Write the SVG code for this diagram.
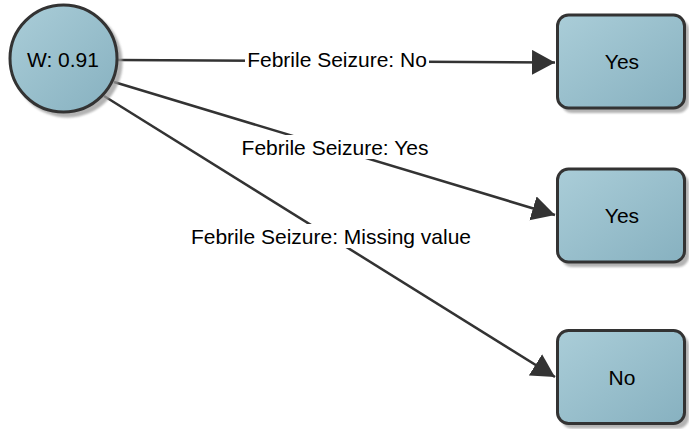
<svg xmlns="http://www.w3.org/2000/svg" width="689" height="429" viewBox="0 0 689 429">
  <style>
    .node { fill: url(#fillGrad); stroke: #333333; stroke-width: 3; }
    .shadow { fill: #9a9a9a; opacity: 0.75; filter: url(#soft); }
    .label { font-family: "Liberation Sans", Arial, sans-serif; font-size: 21px; fill: #000000; text-anchor: middle; }
    .edge { stroke: #333333; stroke-width: 2.5; fill: none; marker-end: url(#arrow); }
    .lblbg { fill: #ffffff; }
  </style>
  <defs>
    <linearGradient id="fillGrad" x1="0" y1="0" x2="1" y2="1">
      <stop offset="0" stop-color="#aacdd8"/>
      <stop offset="1" stop-color="#87b1c0"/>
    </linearGradient>
    <filter id="soft" x="-10%" y="-10%" width="120%" height="120%">
      <feGaussianBlur stdDeviation="1"/>
    </filter>
    <marker id="arrow" markerUnits="userSpaceOnUse" markerWidth="26" markerHeight="26" refX="23" refY="12.5" orient="auto">
      <path d="M0,0 L23,12.5 L0,25 z" fill="#333333"/>
    </marker>
  </defs>

  <!-- connectors -->
  <g id="edges">
    <line class="edge" x1="118" y1="60" x2="555" y2="62.5"/>
    <line class="edge" x1="114" y1="82" x2="555" y2="215"/>
    <line class="edge" x1="104" y1="96" x2="555" y2="377"/>
    <rect class="lblbg" x="245" y="48" width="184" height="24"/>
    <text class="label" x="337" y="67">Febrile Seizure: No</text>
    <rect class="lblbg" x="238" y="135" width="195" height="24"/>
    <text class="label" x="335" y="155">Febrile Seizure: Yes</text>
    <rect class="lblbg" x="186" y="224" width="290" height="24"/>
    <text class="label" x="331" y="244">Febrile Seizure: Missing value</text>
  </g>

  <!-- root -->
  <g id="root">
    <circle class="shadow" cx="67.5" cy="62.5" r="55"/>
    <circle class="node" cx="63.5" cy="58.5" r="53.5"/>
    <text class="label" x="63" y="67">W: 0.91</text>
  </g>

  <!-- leaves -->
  <g id="leafNo">
    <rect class="shadow" x="561" y="19" width="128" height="94" rx="11"/>
    <rect class="node" x="557.5" y="15" width="127" height="93" rx="11"/>
    <text class="label" x="622" y="69">Yes</text>
  </g>
  <g id="leafYes">
    <rect class="shadow" x="561" y="173" width="128" height="94" rx="11"/>
    <rect class="node" x="557.5" y="169" width="127" height="93" rx="11"/>
    <text class="label" x="622" y="223">Yes</text>
  </g>
  <g id="leafMissing">
    <rect class="shadow" x="561" y="334.5" width="128" height="94" rx="11"/>
    <rect class="node" x="557.5" y="330.5" width="127" height="93" rx="11"/>
    <text class="label" x="622" y="385">No</text>
  </g>
</svg>
